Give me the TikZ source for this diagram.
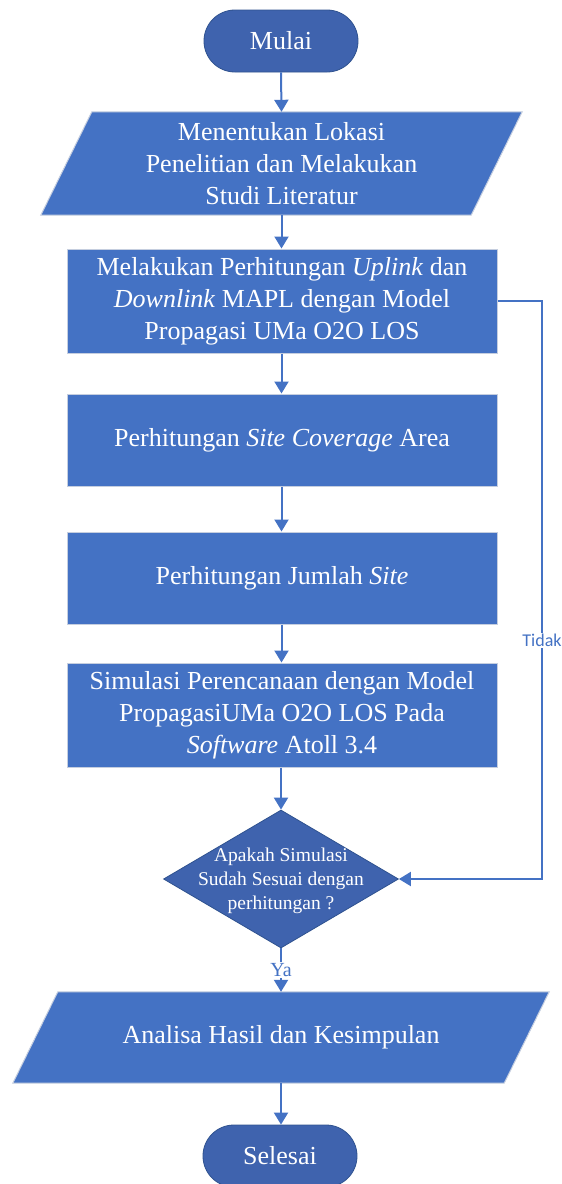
\documentclass[tikz,border=0pt]{standalone}
\usepackage{fontspec}
\setmainfont{Liberation Serif}
\newfontfamily\labelfont{Carlito}
\usetikzlibrary{shapes.geometric,arrows.meta}
\definecolor{boxblue}{HTML}{4472C4}
\definecolor{termblue}{HTML}{3F63AE}
\definecolor{edgeblue}{HTML}{2F528F}
\definecolor{rimgray}{HTML}{C5CEDF}
\begin{document}
\begin{tikzpicture}[x=1pt,y=-1pt,
  txt/.style={text=white, align=center, inner sep=0pt, font=\fontsize{26}{32}\selectfont},
  terminal/.style={txt, fill=termblue, draw=edgeblue, line width=0.8pt,
    rounded corners=30.9pt, minimum width=154pt, minimum height=62pt},
  process/.style={txt, fill=boxblue, draw=rimgray, line width=1pt,
    minimum width=430pt},
  iobox/.style={txt, minimum width=#1},
  iofill/.style={fill=boxblue, draw=rimgray, line width=1pt},
  decision/.style={diamond, fill=termblue, draw=edgeblue, line width=0.8pt,
    minimum width=235pt, minimum height=138pt, inner sep=0pt},
  dectext/.style={text=white, align=center, inner sep=0pt, font=\fontsize{19.5}{24}\selectfont},
  flow/.style={draw=boxblue, line width=2pt, -{Triangle[width=14pt,length=12pt]}},
  tag/.style={fill=white, text=boxblue, inner sep=1pt}]
\useasboundingbox (0,0) rectangle (562,1184);

% start
\node[terminal] (start) at (281,41) {Mulai};

% input: study location and literature
\node[iobox=430pt, minimum height=103pt] (lok) at (281.5,163.5) {};
\path[iofill] ([xshift=25.5pt]lok.north west) -- ([xshift=25.5pt]lok.north east)
  -- ([xshift=-25.5pt]lok.south east) -- ([xshift=-25.5pt]lok.south west) -- cycle;
\node[txt] (loktxt) at (lok.center) {Menentukan Lokasi\\Penelitian dan Melakukan\\Studi Literatur};

% processes
\node[process, minimum height=104pt] (mapl) at (282,301)
  {Melakukan Perhitungan \textit{Uplink} dan\\\textit{Downlink} MAPL dengan Model\\Propagasi UMa O2O LOS};
\node[process, minimum height=92pt] (cov) at (282,440)
  {Perhitungan \textit{Site Coverage} Area};
\node[process, minimum height=92pt] (jml) at (282,578)
  {Perhitungan Jumlah \textit{Site}};
\node[process, minimum height=104pt] (sim) at (282,715)
  {Simulasi Perencanaan dengan Model\\PropagasiUMa O2O LOS Pada\\\textit{Software} Atoll 3.4};

% decision
\node[decision] (dec) at (281,879) {};
\node[dectext] (dectxt) at (281,881) {Apakah Simulasi\\Sudah Sesuai dengan\\perhitungan ?};

% output: analysis and conclusion
\node[iobox=491pt, minimum height=91pt] (ana) at (281,1037.5) {};
\path[iofill] ([xshift=22.5pt]ana.north west) -- ([xshift=22.5pt]ana.north east)
  -- ([xshift=-22.5pt]ana.south east) -- ([xshift=-22.5pt]ana.south west) -- cycle;
\node[txt] (anatxt) at (ana.center) {Analisa Hasil dan Kesimpulan};

% end
\node[terminal] (stop) at (280,1156) {Selesai};

% connectors
\draw[flow] (start.south) -- (lok.north);
\draw[flow] (lok.south) -- (mapl.north -| lok.south);
\draw[flow] (mapl.south -| lok.south) -- (cov.north -| lok.south);
\draw[flow] (cov.south -| lok.south) -- (jml.north -| lok.south);
\draw[flow] (jml.south -| lok.south) -- (sim.north -| lok.south);
\draw[flow] (sim.south -| dec.north) -- (dec.north);
\draw[flow] (dec.south) -- node[tag, font=\fontsize{20}{22}\selectfont] (ya) {Ya} (ana.north);
\draw[flow] (ana.south) -- (stop.north -| ana.south);

\coordinate (loop) at (542,301);
\draw[flow] (mapl.east) -- (loop)
  -- node[tag, pos=0.587, font=\labelfont\fontsize{18}{20}\selectfont] (tidak) {Tidak} (loop |- dec.east)
  -- (dec.east);
\end{tikzpicture}
\end{document}
